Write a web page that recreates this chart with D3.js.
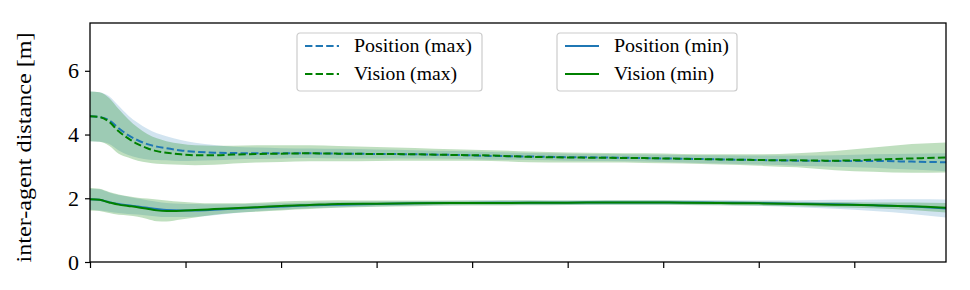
<!DOCTYPE html>
<html>
<head>
<meta charset="utf-8">
<script src="https://cdn.jsdelivr.net/npm/d3@7"></script>
<style>
  body { margin: 0; background: #fff; }
  text { font-family: "Liberation Serif", "DejaVu Serif", serif; }
</style>
</head>
<body>
<div id="chart"></div>
<script>
// time samples
var times = [0, 10, 20, 30, 40, 50, 60, 70, 80, 95, 110, 130, 150, 175, 200, 230, 260, 300, 340, 380,
  420, 460, 500, 540, 580, 620, 660, 700, 740, 780, 820, 860, 896];

var posMax = [4.57, 4.55, 4.45, 4.20, 3.98, 3.82, 3.70, 3.62, 3.57, 3.50, 3.46, 3.43, 3.42, 3.41, 3.41, 3.41, 3.40,
  3.39, 3.38, 3.36, 3.33, 3.31, 3.29, 3.28, 3.26, 3.24, 3.22, 3.20, 3.18, 3.17, 3.17, 3.15, 3.13];
var posMaxSd = [0.78, 0.78, 0.75, 0.70, 0.62, 0.55, 0.48, 0.42, 0.38, 0.33, 0.28, 0.24, 0.20, 0.18, 0.16, 0.15, 0.15,
  0.14, 0.13, 0.12, 0.12, 0.11, 0.11, 0.11, 0.11, 0.12, 0.13, 0.14, 0.16, 0.18, 0.21, 0.25, 0.28];

var visMax = [4.57, 4.55, 4.40, 4.10, 3.88, 3.70, 3.57, 3.48, 3.43, 3.38, 3.35, 3.35, 3.37, 3.39, 3.40, 3.41, 3.40,
  3.39, 3.38, 3.36, 3.34, 3.30, 3.28, 3.27, 3.26, 3.24, 3.22, 3.20, 3.19, 3.18, 3.21, 3.25, 3.28];
var visMaxSd = [0.78, 0.78, 0.75, 0.70, 0.60, 0.52, 0.45, 0.40, 0.36, 0.33, 0.31, 0.30, 0.28, 0.27, 0.26, 0.25, 0.24,
  0.22, 0.20, 0.18, 0.17, 0.17, 0.16, 0.15, 0.15, 0.15, 0.16, 0.18, 0.22, 0.30, 0.38, 0.45, 0.47];

var posMin = [1.97, 1.95, 1.88, 1.82, 1.78, 1.74, 1.70, 1.66, 1.63, 1.62, 1.62, 1.64, 1.67, 1.71, 1.74, 1.78, 1.80,
  1.82, 1.84, 1.85, 1.86, 1.86, 1.86, 1.87, 1.87, 1.87, 1.86, 1.85, 1.83, 1.81, 1.78, 1.74, 1.68];
var posMinSd = [0.33, 0.33, 0.30, 0.28, 0.27, 0.25, 0.24, 0.23, 0.22, 0.21, 0.20, 0.17, 0.14, 0.12, 0.10, 0.09, 0.08,
  0.08, 0.07, 0.07, 0.07, 0.07, 0.07, 0.07, 0.07, 0.07, 0.08, 0.09, 0.11, 0.14, 0.18, 0.23, 0.28];

var visMin = [1.97, 1.95, 1.87, 1.80, 1.76, 1.72, 1.67, 1.62, 1.60, 1.61, 1.63, 1.66, 1.69, 1.72, 1.76, 1.79, 1.82,
  1.83, 1.84, 1.85, 1.85, 1.86, 1.86, 1.87, 1.87, 1.86, 1.85, 1.84, 1.82, 1.80, 1.78, 1.75, 1.70];
var visMinSd = [0.35, 0.35, 0.33, 0.32, 0.30, 0.30, 0.32, 0.34, 0.33, 0.28, 0.23, 0.18, 0.15, 0.14, 0.14, 0.13, 0.12,
  0.10, 0.09, 0.08, 0.08, 0.08, 0.07, 0.07, 0.07, 0.07, 0.07, 0.07, 0.07, 0.08, 0.09, 0.12, 0.15];

var xTicks = [0, 100, 200, 300, 400, 500, 600, 700, 800];
var yTicks = [0, 2, 4, 6];

var blue = '#1f77b4', green = '#008000';

var series = [
  { name: 'Position (max)', mean: posMax, sd: posMaxSd, color: blue, band: 0.2, dashed: true, tw: 118 },
  { name: 'Vision (max)', mean: visMax, sd: visMaxSd, color: green, band: 0.25, dashed: true, tw: 103 },
  { name: 'Position (min)', mean: posMin, sd: posMinSd, color: blue, band: 0.2, dashed: false, tw: 115 },
  { name: 'Vision (min)', mean: visMin, sd: visMinSd, color: green, band: 0.25, dashed: false, tw: 100 }
];

var W = 970, H = 290;
var margin = { left: 90, right: 24, top: 23, bottom: 28 };
var width = W - margin.left - margin.right;
var height = H - margin.top - margin.bottom;

var svg = d3.select('#chart').append('svg')
  .attr('width', W)
  .attr('height', H);

var g = svg.append('g')
  .attr('transform', 'translate(' + margin.left + ',' + margin.top + ')');

var x = d3.scaleLinear().domain([0, 896]).range([0, width]);
var y = d3.scaleLinear().domain([0, 7.5]).range([height, 0]);

g.append('defs').append('clipPath').attr('id', 'clip')
  .append('rect').attr('width', width).attr('height', height);

var plot = g.append('g').attr('clip-path', 'url(#clip)');

// bands
series.forEach(function(s) {
  var area = d3.area()
    .x(function(d, i) { return x(times[i]); })
    .y0(function(d, i) { return y(s.mean[i] - s.sd[i]); })
    .y1(function(d, i) { return y(s.mean[i] + s.sd[i]); })
    .curve(d3.curveMonotoneX);
  plot.append('path')
    .datum(s.mean)
    .attr('d', area)
    .attr('fill', s.color)
    .attr('fill-opacity', s.band);
});

// lines
series.forEach(function(s) {
  var line = d3.line()
    .x(function(d, i) { return x(times[i]); })
    .y(function(d) { return y(d); })
    .curve(d3.curveMonotoneX);
  plot.append('path')
    .datum(s.mean)
    .attr('d', line)
    .attr('fill', 'none')
    .attr('stroke', s.color)
    .attr('stroke-width', 2)
    .attr('stroke-dasharray', s.dashed ? '7.4,3.2' : null);
});

// axes
var xAxis = g.append('g')
  .attr('transform', 'translate(0,' + height + ')')
  .call(d3.axisBottom(x).tickValues(xTicks).tickSize(6).tickFormat(''));
var yAxis = g.append('g')
  .call(d3.axisLeft(y).tickValues(yTicks).tickSize(5).tickPadding(6));

[xAxis, yAxis].forEach(function(a) {
  a.select('.domain').remove();
  a.selectAll('line').attr('stroke', '#000').attr('stroke-width', 1.2);
  a.selectAll('text').attr('fill', '#000').attr('font-size', '22px')
    .attr('font-family', '"Liberation Serif", "DejaVu Serif", serif');
});

// frame
g.append('rect')
  .attr('width', width)
  .attr('height', height)
  .attr('fill', 'none')
  .attr('stroke', '#000')
  .attr('stroke-width', 1.3);

// y label
svg.append('text')
  .attr('transform', 'translate(31,' + (margin.top + height / 2 + 5) + ') rotate(-90)')
  .attr('text-anchor', 'middle')
  .attr('font-size', '20px')
  .attr('textLength', 230)
  .attr('lengthAdjust', 'spacingAndGlyphs')
  .text('inter-agent distance [m]');

// legends
var legends = [
  { x: 297, items: [series[0], series[1]], boxW: 185 },
  { x: 557, items: [series[2], series[3]], boxW: 180 }
];
legends.forEach(function(L) {
  var lg = svg.append('g').attr('transform', 'translate(' + L.x + ',33)');
  lg.append('rect')
    .attr('width', L.boxW)
    .attr('height', 58)
    .attr('rx', 3)
    .attr('fill', '#fff')
    .attr('fill-opacity', 0.8)
    .attr('stroke', '#ccc')
    .attr('stroke-width', 1.2);
  L.items.forEach(function(s, i) {
    var yy = 13 + i * 28;
    lg.append('line')
      .attr('x1', 8).attr('x2', 42)
      .attr('y1', yy).attr('y2', yy)
      .attr('stroke', s.color)
      .attr('stroke-width', 2)
      .attr('stroke-dasharray', s.dashed ? '7.4,3.2' : null);
    lg.append('text')
      .attr('x', 57)
      .attr('y', yy)
      .attr('dy', '0.35em')
      .attr('font-size', '18px')
      .attr('textLength', s.tw)
      .attr('lengthAdjust', 'spacingAndGlyphs')
      .text(s.name);
  });
});
</script>
</body>
</html>
